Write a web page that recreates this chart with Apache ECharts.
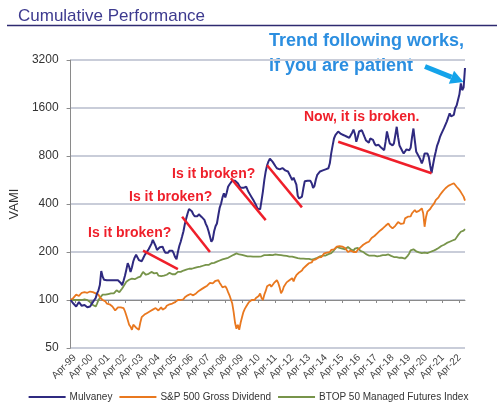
<!DOCTYPE html>
<html>
<head>
<meta charset="utf-8">
<script src="https://cdn.jsdelivr.net/npm/echarts@6/dist/echarts.min.js"></script>
<style>
  html, body { margin: 0; padding: 0; background: #fff; }
  #chart { width: 497px; height: 408px; }
</style>
</head>
<body>
<div id="chart"></div>
<script>
// monthly VAMI, Jan-99 .. Aug-22 (one row per year)
var monthNames = ['Jan', 'Feb', 'Mar', 'Apr', 'May', 'Jun', 'Jul', 'Aug', 'Sep', 'Oct', 'Nov', 'Dec'];
var firstYear = 1999, lastYear = 2022, lastMonth = 7;
var yTicks = [50, 100, 200, 400, 800, 1600, 3200];

var mulvaney = [
  100, 98, 95, 93, 91, 94, 97, 95, 92, 91, 93, 95,
  90, 92, 91, 94, 97, 100, 103, 110, 115, 124, 152, 140,
  134, 133, 133, 133, 133, 133, 133, 133, 133, 133, 133, 132,
  128, 124, 132, 142, 155, 170, 162, 150, 160, 175, 185, 192,
  185, 178, 174, 175, 182, 190, 196, 200, 208, 212, 225, 238,
  232, 218, 206, 210, 214, 210, 216, 205, 198, 194, 198, 204,
  206, 204, 196, 186, 180, 200, 218, 232, 250, 270, 300, 325,
  350, 372, 376, 360, 345, 335, 333, 335, 345, 338, 332, 325,
  318, 300, 288, 270, 250, 232, 240, 270, 290, 302, 340, 380,
  403, 440, 466, 440, 470, 513, 530, 545, 560, 565, 560, 550,
  540, 520, 505, 495, 505, 510, 513, 490, 470, 460, 440, 425,
  423, 395, 375, 367, 370, 420, 480, 565, 640, 700, 740, 770,
  760, 735, 720, 690, 670, 655, 660, 665, 672, 670, 650, 636,
  640, 625, 590, 565, 585, 590, 530, 450, 433, 435, 445, 500,
  555, 565, 560, 555, 560, 540, 505, 520, 570, 610, 620, 640,
  653, 650, 655, 660, 665, 670, 720, 830, 930, 1030, 1080, 1100,
  1140, 1120, 1100, 1090, 1080, 1070, 1060, 1050, 1040, 1070, 1120, 1170,
  1100, 983, 1050, 1140, 1150, 1160, 1140, 1050, 1000, 990, 970, 1030,
  1060, 1010, 960, 930, 915, 940, 930, 900, 880, 870, 980, 1140,
  1040, 960, 940, 930, 960, 1080, 1220, 1050, 930, 915, 860, 830,
  850, 880, 860, 870, 900, 1050, 1190, 1000, 850, 820, 790, 760,
  718, 760, 830, 850, 830, 790, 700, 625, 700, 780, 850, 930,
  980, 1050, 1100, 1150, 1200, 1260, 1320, 1400, 1480, 1420, 1380, 1450,
  1600, 1660, 1700, 1950, 2280, 2070, 2150, 2850
];

var sp500 = [
  100, 101, 103, 106, 108, 110, 106, 108, 111, 109, 112, 113,
  111, 114, 113, 116, 112, 114, 110, 107, 108, 104, 103, 100,
  101, 98, 95, 97, 94, 92, 91, 89, 86, 88, 90, 91,
  90, 88, 89, 85, 80, 75, 70, 68, 65, 70, 72, 67,
  66, 65, 72, 78, 80, 81, 82, 83, 83, 85, 86, 87,
  88, 89, 88, 86, 88, 90, 87, 88, 89, 92, 93, 94,
  92, 95, 96, 97, 99, 100, 101, 100, 102, 101, 104, 105,
  107, 108, 109, 110, 107, 108, 110, 112, 114, 115, 117, 119,
  120, 122, 123, 126, 128, 130, 127, 129, 132, 134, 133, 128,
  124, 120, 118, 122, 118, 112, 107, 104, 95, 84, 72, 66,
  70, 65, 72, 78, 84, 88, 91, 94, 97, 98, 100, 101,
  100, 103, 105, 106, 110, 103, 100, 108, 114, 122, 123, 125,
  121, 124, 128, 131, 133, 128, 120, 110, 114, 121, 124, 129,
  131, 133, 135, 137, 131, 138, 143, 147, 149, 150, 153, 158,
  160, 164, 167, 170, 174, 172, 178, 176, 180, 183, 185, 182,
  186, 190, 196, 194, 198, 202, 200, 206, 204, 208, 214, 216,
  212, 218, 214, 216, 218, 212, 208, 200, 196, 204, 205, 200,
  195, 200, 206, 210, 214, 216, 222, 225, 228, 226, 232, 238,
  245, 250, 252, 258, 262, 266, 272, 278, 281, 286, 292, 295,
  302, 292, 284, 281, 288, 292, 300, 308, 317, 300, 304, 302,
  325, 330, 333, 341, 335, 350, 360, 367, 356, 350, 362, 370,
  376, 350, 288, 330, 358, 365, 372, 384, 395, 405, 423, 432,
  440, 455, 466, 480, 490, 502, 510, 520, 525, 530, 535, 540,
  530, 513, 520, 490, 475, 480, 445, 420
];

var btop50 = [
  100, 101, 100, 99, 100, 101, 100, 99, 100, 100, 101, 99,
  100, 98, 97, 95, 93, 92, 91, 95, 100, 103, 106, 108,
  107, 108, 110, 109, 111, 110, 112, 110, 113, 115, 114, 112,
  114, 118, 122, 126, 130, 133, 134, 135, 136, 134, 135, 137,
  138, 135, 140, 145, 150, 146, 144, 143, 146, 148, 150, 148,
  147, 150, 148, 142, 140, 141, 140, 142, 143, 144, 146, 148,
  147, 145, 146, 145, 147, 150, 151, 150, 152, 153, 154, 155,
  156, 157, 158, 157, 158, 159, 160, 161, 162, 162, 163, 164,
  165, 166, 167, 166, 168, 170, 169, 171, 172, 174, 176, 177,
  178, 180, 181, 182, 182, 184, 186, 188, 190, 192, 194, 196,
  195, 193, 194, 192, 191, 190, 189, 188, 187, 188, 189, 187,
  188, 187, 186, 187, 189, 188, 190, 191, 192, 191, 193, 192,
  193, 191, 192, 193, 194, 192, 193, 191, 192, 190, 191, 189,
  188, 187, 186, 187, 186, 185, 184, 183, 184, 182, 183, 182,
  182, 181, 180, 181, 180, 179, 180, 181, 183, 184, 186, 188,
  189, 190, 188, 190, 192, 194, 195, 197, 200, 205, 210, 215,
  216, 212, 214, 210, 205, 208, 210, 215, 214, 208, 212, 204,
  210, 216, 212, 206, 203, 205, 200, 196, 194, 192, 190, 189,
  190, 191, 190, 189, 188, 190, 189, 190, 191, 192, 191, 192,
  193, 190, 189, 188, 186, 185, 186, 185, 184, 183, 184, 186,
  182, 186, 190, 196, 205, 211, 208, 204, 202, 200, 199, 198,
  197, 196, 198, 196, 197, 199, 200, 201, 203, 205, 207, 210,
  212, 215, 218, 220, 222, 225, 228, 230, 232, 234, 236, 238,
  240, 245, 255, 262, 268, 270, 272, 278
];

// red "broken trend" lines: [from, value, to, value]
var brokenLines = [
  ['May-03', 204, 'Jun-05', 156],
  ['Sep-05', 333, 'May-07', 200],
  ['Aug-08', 580, 'Sep-10', 317],
  ['Oct-10', 700, 'Nov-12', 381],
  ['Jan-15', 982, 'Aug-20', 624]
];

var categories = [];
for (var y = firstYear; y <= lastYear; y++) {
  for (var m = 0; m < 12; m++) {
    if (y === lastYear && m > lastMonth) break;
    categories.push(monthNames[m] + '-' + String(y).slice(2));
  }
}

var FONT = '"Liberation Sans", Arial, sans-serif';
var RED = '#ef1f2a';
var gridTop = 60, gridBottom = 60, chartH = 408;
var plotH = chartH - gridTop - gridBottom;
var base = yTicks[0];
var steps = yTicks.length - 1;

function toLog(v) { return Math.log(v / base) / Math.LN2; }
function isApr(idx, val) { return val.indexOf('Apr') === 0; }

var myChart = echarts.init(document.getElementById('chart'));

// arrow geometry (pixel space annotation)
var tail = [425, 66.5], tip = [463.5, 82];
var dx = tip[0] - tail[0], dy = tip[1] - tail[1];
var len = Math.sqrt(dx * dx + dy * dy);
var ux = dx / len, uy = dy / len;
var hb = [tip[0] - 13 * ux, tip[1] - 13 * uy];

var option = {
  animation: false,
  title: {
    text: 'Cumulative Performance',
    left: 13,
    top: 3,
    textStyle: { fontFamily: FONT, fontSize: 17, fontWeight: 'normal', color: '#3d3a8f' }
  },
  grid: { left: 62, right: 32, top: gridTop, bottom: gridBottom },
  legend: {
    bottom: 1,
    left: 'center',
    icon: 'rect',
    itemWidth: 37,
    itemHeight: 2,
    itemGap: 7,
    data: ['Mulvaney', 'S&P 500 Gross Dividend', 'BTOP 50 Managed Futures Index'],
    textStyle: { fontFamily: FONT, fontSize: 10, color: '#333', padding: [0, 0, 0, -1] }
  },
  xAxis: [{
    type: 'category',
    data: categories,
    boundaryGap: false,
    axisLine: { show: false },
    axisTick: { show: false },
    axisLabel: {
      interval: isApr,
      rotate: 45,
      margin: 8,
      fontFamily: FONT,
      fontSize: 10,
      color: '#444'
    },
    splitLine: { show: false }
  }, {
    type: 'category',
    data: categories,
    boundaryGap: false,
    position: 'bottom',
    offset: -plotH / steps,
    axisLine: { show: true, lineStyle: { color: '#8a8a8a', width: 1 } },
    axisTick: { show: true, interval: isApr, length: 3, lineStyle: { color: '#8a8a8a' } },
    axisLabel: { show: false },
    splitLine: { show: false }
  }],
  yAxis: {
    type: 'value',
    min: 0,
    max: steps,
    interval: 1,
    name: 'VAMI',
    nameLocation: 'middle',
    nameGap: 28,
    nameTextStyle: { fontFamily: FONT, fontSize: 13, color: '#333' },
    axisLine: { show: true, lineStyle: { color: '#8a8a8a', width: 1 } },
    axisTick: { show: true, length: 4, lineStyle: { color: '#8a8a8a' } },
    axisLabel: {
      margin: 12,
      fontFamily: FONT,
      fontSize: 12,
      color: '#333',
      formatter: function (v) { return String(Math.round(base * Math.pow(2, v))); }
    },
    splitLine: { show: true, lineStyle: { color: '#c9cdd9', width: 2 } }
  },
  series: [{
    name: 'Mulvaney',
    type: 'line',
    z: 4,
    symbol: 'none',
    data: mulvaney.map(toLog),
    lineStyle: { color: '#2f2a80', width: 2 },
    itemStyle: { color: '#2f2a80' },
    markLine: {
      silent: true,
      symbol: 'none',
      label: { show: false },
      lineStyle: { color: RED, width: 2.5, type: 'solid' },
      data: brokenLines.map(function (b) {
        return [{ coord: [b[0], toLog(b[1])] }, { coord: [b[2], toLog(b[3])] }];
      })
    }
  }, {
    name: 'S&P 500 Gross Dividend',
    type: 'line',
    z: 3,
    symbol: 'none',
    data: sp500.map(toLog),
    lineStyle: { color: '#e9781f', width: 1.8 },
    itemStyle: { color: '#e9781f' }
  }, {
    name: 'BTOP 50 Managed Futures Index',
    type: 'line',
    z: 2,
    symbol: 'none',
    data: btop50.map(toLog),
    lineStyle: { color: '#77944a', width: 1.8 },
    itemStyle: { color: '#77944a' }
  }],
  graphic: [
    { type: 'line', shape: { x1: 7, y1: 25.5, x2: 497, y2: 25.5 }, style: { stroke: '#2e2a70', lineWidth: 1.5 } },
    { type: 'text', x: 88, y: 233, style: { text: 'Is it broken?', fill: RED, font: 'bold 14px ' + FONT, verticalAlign: 'middle' } },
    { type: 'text', x: 129, y: 197, style: { text: 'Is it broken?', fill: RED, font: 'bold 14px ' + FONT, verticalAlign: 'middle' } },
    { type: 'text', x: 172, y: 174, style: { text: 'Is it broken?', fill: RED, font: 'bold 14px ' + FONT, verticalAlign: 'middle' } },
    { type: 'text', x: 304, y: 117, style: { text: 'Now, it is broken.', fill: RED, font: 'bold 14px ' + FONT, verticalAlign: 'middle' } },
    { type: 'text', x: 269, y: 29, style: { text: 'Trend following works,\nif you are patient', fill: '#2b8ee0', font: 'bold 18px ' + FONT, lineHeight: 25 } },
    { type: 'line', shape: { x1: tail[0], y1: tail[1], x2: hb[0], y2: hb[1] }, style: { stroke: '#14a3ea', lineWidth: 5 } },
    { type: 'polygon', shape: { points: [tip, [hb[0] + 7 * uy, hb[1] - 7 * ux], [hb[0] - 7 * uy, hb[1] + 7 * ux]] }, style: { fill: '#14a3ea' } }
  ]
};

myChart.setOption(option);
</script>
</body>
</html>
